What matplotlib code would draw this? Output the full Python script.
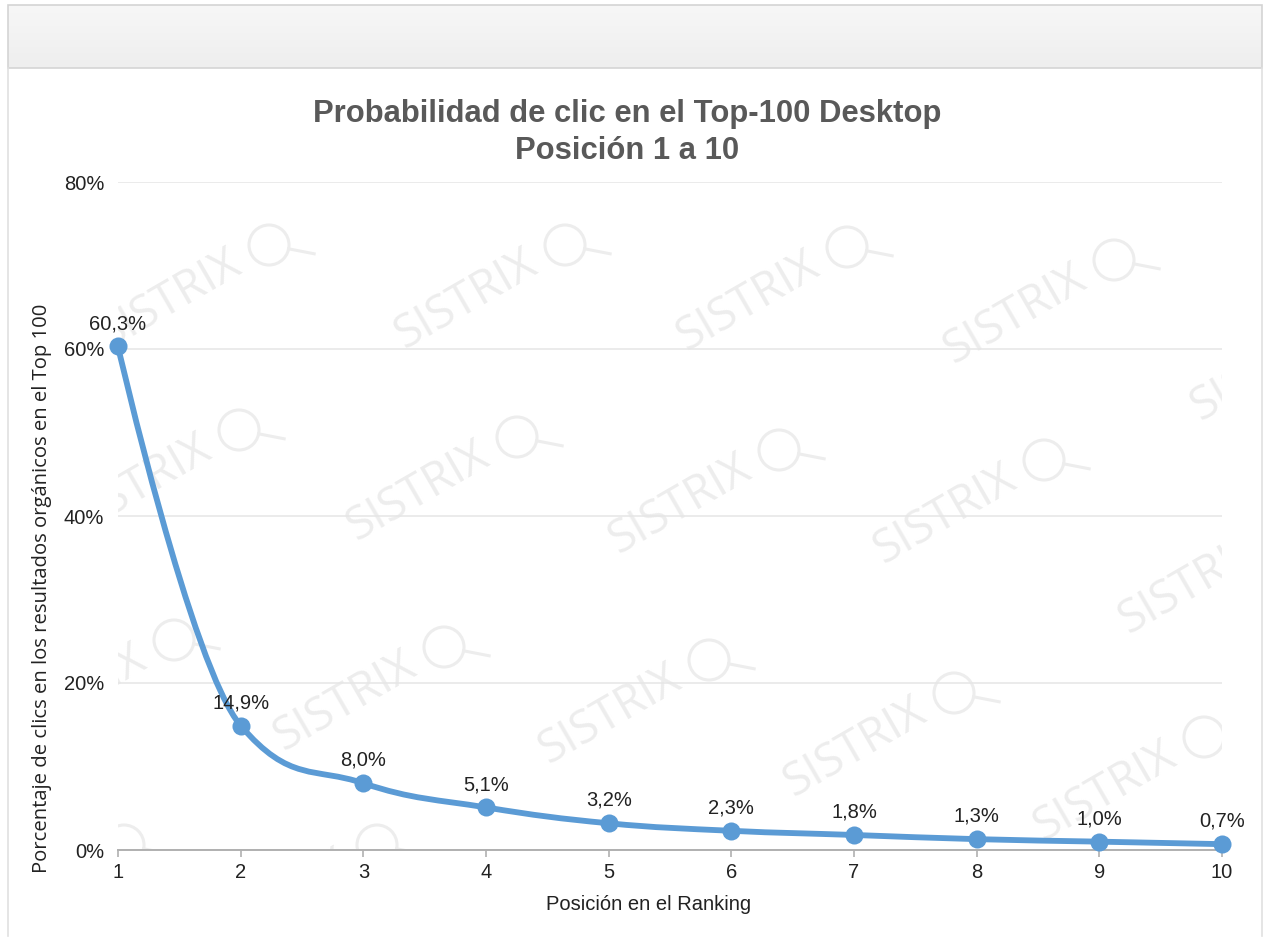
import numpy as np
import matplotlib
matplotlib.use("Agg")
import matplotlib.pyplot as plt
from matplotlib.path import Path
from matplotlib.patches import PathPatch, Rectangle, Ellipse
from matplotlib.lines import Line2D
from matplotlib.colors import LinearSegmentedColormap

# ---- data ----
positions = [1, 2, 3, 4, 5, 6, 7, 8, 9, 10]
click_share = [60.3, 14.9, 8.0, 5.1, 3.2, 2.3, 1.8, 1.3, 1.0, 0.7]
y_ticks = [0, 20, 40, 60, 80]
y_tick_labels = ["0%", "20%", "40%", "60%", "80%"]
x_tick_labels = [str(p) for p in positions]

title_lines = ["Probabilidad de clic en el Top-100 Desktop", "Posición 1 a 10"]
x_title = "Posición en el Ranking"
y_title = "Porcentaje de clics en los resultados orgánicos en el Top 100"

# ---- style ----
LINE_COLOR = "#5b9bd5"
TEXT_COLOR = "#222222"
TITLE_COLOR = "#595959"
GRID_COLOR = "#e6e6e6"
AXIS_COLOR = "#b0b0b0"
WM_COLOR = "#ededed"
BASE_FONT = "Liberation Sans"
LABEL_SIZE = 14.5

W, H = 1271, 938
fig = plt.figure(figsize=(W / 100, H / 100), dpi=100)
fig.patch.set_facecolor("white")


def fx(px):
    return px / W


def fy(py):
    return 1 - py / H


# ---- panel frame with header bar ----
hax = fig.add_axes([fx(8), fy(68), fx(1262) - fx(8), fy(5) - fy(68)])
grad = np.linspace(0, 1, 64).reshape(-1, 1)
hcmap = LinearSegmentedColormap.from_list("hdr", ["#f7f7f7", "#eeeeee"])
hax.imshow(grad, aspect="auto", cmap=hcmap, extent=[0, 1, 0, 1], origin="upper")
hax.set_xlim(0, 1)
hax.set_ylim(0, 1)
hax.axis("off")
fig.add_artist(Rectangle((fx(8), fy(68)), fx(1262) - fx(8), fy(5) - fy(68),
                         transform=fig.transFigure, fill=False,
                         ec="#d4d4d4", lw=1.2))
for xb in (8, 1262):
    fig.add_artist(Line2D([fx(xb), fx(xb)], [fy(68), fy(936)],
                          transform=fig.transFigure, color="#e0e0e0", lw=1.2))

# ---- main plot area ----
AX_L, AX_R, AX_T, AX_B = 118, 1222, 182, 850
ax = fig.add_axes([fx(AX_L), fy(AX_B), fx(AX_R) - fx(AX_L), fy(AX_T) - fy(AX_B)])
ax.set_xlim(positions[0], positions[-1])
ax.set_ylim(y_ticks[0], y_ticks[-1])


def ax_x(px):
    return (px - AX_L) / (AX_R - AX_L)


def ax_y(py):
    return (AX_B - py) / (AX_B - AX_T)


# watermark stamps (word + magnifier glass), clipped to the plot area
wm_centers = [
    (170, 300), (466, 300), (748, 302), (1015, 315), (1262, 372),
    (140, 485), (418, 492), (680, 505), (945, 515), (1190, 585),
    (75, 695), (345, 702), (610, 715), (855, 748), (1105, 792),
    (25, 900), (278, 900),
]
for cx, cy in wm_centers:
    ax.text(ax_x(cx), ax_y(cy), "SISTRIX", transform=ax.transAxes,
            rotation=30, rotation_mode="anchor", ha="center", va="center",
            fontsize=33, family="Open Sans", color=WM_COLOR, zorder=0.5,
            clip_on=True)
    gx, gy, r = cx + 99, cy - 55, 20
    ax.add_patch(Ellipse((ax_x(gx), ax_y(gy)), 2 * r / (AX_R - AX_L),
                         2 * r / (AX_B - AX_T), transform=ax.transAxes,
                         fill=False, ec=WM_COLOR, lw=2.2, zorder=0.5,
                         clip_on=True))
    ang = np.deg2rad(11)
    sx, sy = gx + r * np.cos(ang), gy + r * np.sin(ang)
    ex, ey = sx + 26 * np.cos(ang), sy + 26 * np.sin(ang)
    ax.add_line(Line2D([ax_x(sx), ax_x(ex)], [ax_y(sy), ax_y(ey)],
                       transform=ax.transAxes, color=WM_COLOR, lw=2.2,
                       zorder=0.5, clip_on=True))

# grid and axes styling
ax.set_yticks(y_ticks)
ax.set_yticklabels(y_tick_labels)
ax.set_xticks(positions)
ax.set_xticklabels(x_tick_labels)
ax.yaxis.grid(True, color=GRID_COLOR, lw=1.1, zorder=0.4)
ax.set_axisbelow(True)
for side in ("top", "right", "left"):
    ax.spines[side].set_visible(False)
ax.spines["bottom"].set_color(AXIS_COLOR)
ax.spines["bottom"].set_linewidth(1.4)
ax.spines["bottom"].set_zorder(0.6)
ax.tick_params(axis="y", length=0, pad=10, labelsize=LABEL_SIZE,
               labelcolor=TEXT_COLOR)
ax.tick_params(axis="x", length=5, width=1.2, color=AXIS_COLOR, pad=4,
               labelsize=LABEL_SIZE, labelcolor=TEXT_COLOR)
for lab in ax.get_xticklabels() + ax.get_yticklabels():
    lab.set_family(BASE_FONT)


# smooth spline through the points (Bezier control points, spline-style smoothing)
def spline_path(xs, ys, smoothing=1.5):
    denom = smoothing + 1
    n = len(xs)
    left = [None] * n
    right = [None] * n
    for i in range(1, n - 1):
        lx, ly = xs[i - 1], ys[i - 1]
        nx, ny = xs[i + 1], ys[i + 1]
        x, y = xs[i], ys[i]
        lcx = (smoothing * x + lx) / denom
        lcy = (smoothing * y + ly) / denom
        rcx = (smoothing * x + nx) / denom
        rcy = (smoothing * y + ny) / denom
        corr = 0.0
        if rcx != lcx:
            corr = (rcy - lcy) * (rcx - x) / (rcx - lcx) + y - rcy
        lcy += corr
        rcy += corr
        if lcy > ly and lcy > y:
            lcy = max(ly, y)
            rcy = 2 * y - lcy
        elif lcy < ly and lcy < y:
            lcy = min(ly, y)
            rcy = 2 * y - lcy
        if rcy > ny and rcy > y:
            rcy = max(ny, y)
            lcy = 2 * y - rcy
        elif rcy < ny and rcy < y:
            rcy = min(ny, y)
            lcy = 2 * y - rcy
        left[i] = (lcx, lcy)
        right[i] = (rcx, rcy)
    verts = [(xs[0], ys[0])]
    codes = [Path.MOVETO]
    for i in range(1, n):
        c1 = right[i - 1] or (xs[i - 1], ys[i - 1])
        c2 = left[i] or (xs[i], ys[i])
        verts += [c1, c2, (xs[i], ys[i])]
        codes += [Path.CURVE4] * 3
    return Path(verts, codes)


ax.add_patch(PathPatch(spline_path(positions, click_share), fill=False,
                       ec=LINE_COLOR, lw=4.2, capstyle="round",
                       joinstyle="round", zorder=3, clip_on=False))
ax.plot(positions, click_share, "o", color=LINE_COLOR, markersize=13,
        markeredgewidth=0, zorder=4, clip_on=False)

for x, v in zip(positions, click_share):
    ax.annotate(f"{v:.1f}".replace(".", ",") + "%", (x, v),
                xytext=(0, 12.5), textcoords="offset points", ha="center",
                va="baseline", fontsize=LABEL_SIZE, family=BASE_FONT,
                color=TEXT_COLOR, zorder=5, annotation_clip=False)

# titles
fig.text(fx(627), fy(114), title_lines[0], ha="center", va="center",
         fontsize=22.3, fontweight="bold", family=BASE_FONT, color=TITLE_COLOR)
fig.text(fx(627), fy(151), title_lines[1], ha="center", va="center",
         fontsize=22.3, fontweight="bold", family=BASE_FONT, color=TITLE_COLOR)
fig.text(fx(649), fy(905), x_title, ha="center", va="center",
         fontsize=14.5, family=BASE_FONT, color=TEXT_COLOR)
fig.text(fx(42), fy(588), y_title, ha="center", va="center", rotation=90,
         fontsize=14.6, family="Open Sans", color=TEXT_COLOR)

fig.savefig("out.png", dpi=100, facecolor="white")
